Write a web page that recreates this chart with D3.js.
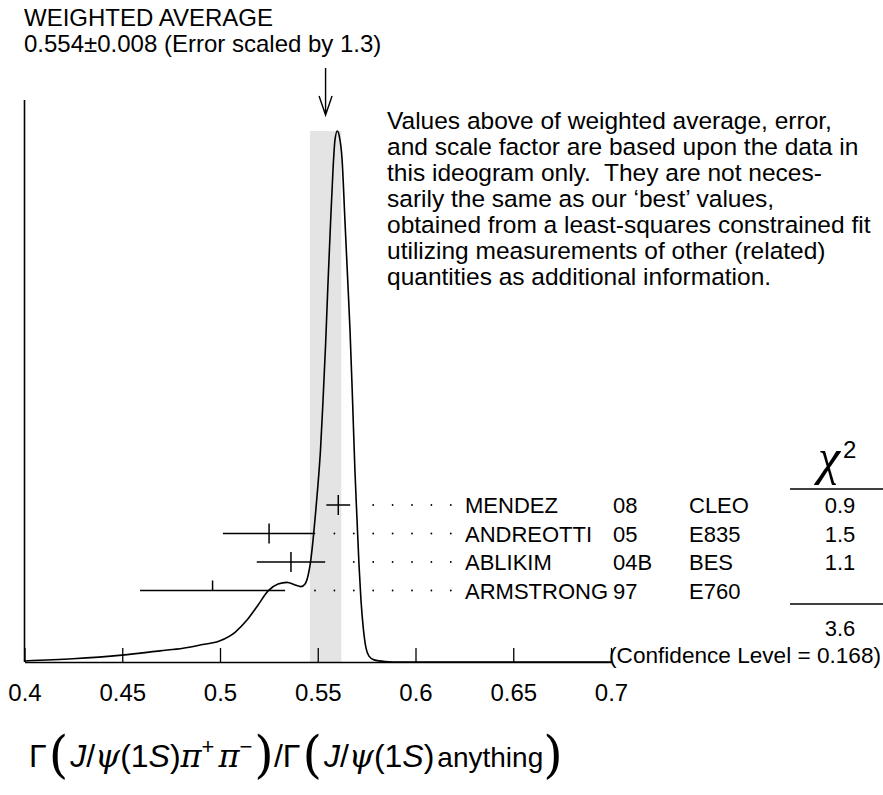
<!DOCTYPE html>
<html><head><meta charset="utf-8">
<script src="https://cdn.jsdelivr.net/npm/d3@7"></script>
<style>
body{margin:0;background:#fff}
svg text{font-family:"Liberation Sans",Arial,Helvetica,sans-serif;fill:#000;white-space:pre}
</style>
</head><body>
<svg id="chart" width="883" height="795"></svg>
<script>
// ---- data ----
const names  = ["MENDEZ","ANDREOTTI","ABLIKIM","ARMSTRONG"];
const years  = ["08","05","04B","97"];
const expts  = ["CLEO","E835","BES","E760"];
const values = [0.5605,0.5251,0.5363,0.4962];
const errors = [0.0061,0.0236,0.0175,0.0371];
const chi2   = ["0.9","1.5","1.1",""];
const chi2Total = "3.6";
const confLevel = "0.168";
const avgValue = 0.554, avgError = 0.008, errScale = "1.3";
const xTicks = [0.4,0.45,0.5,0.55,0.6,0.65,0.7];
const xTickLabels = ["0.4","0.45","0.5","0.55","0.6","0.65","0.7"];
// ideogram curve (x value, relative height)
const curveX = [0.400,0.4248,0.4499,0.4693,0.4811,0.4898,0.500,0.5077,0.5138,0.5194,0.5246,0.5297,0.5343,0.5384,0.5414,0.5435,0.5450,0.5463,0.5476,0.5488,0.5501,0.5514,0.5527,0.5540,0.5552,0.5565,0.5578,0.5588,0.5600,0.5611,0.5624,0.5639,0.5652,0.5665,0.5678,0.5690,0.5701,0.5711,0.5721,0.5734,0.5747,0.5762,0.5788,0.5844,0.592,0.700];
const curveH = [0.002,0.006,0.013,0.021,0.026,0.032,0.040,0.056,0.079,0.107,0.134,0.147,0.150,0.145,0.142,0.147,0.162,0.188,0.230,0.277,0.333,0.399,0.493,0.597,0.710,0.823,0.927,0.983,1.000,0.989,0.949,0.832,0.729,0.625,0.493,0.362,0.267,0.183,0.117,0.060,0.026,0.011,0.004,0.001,0.000,0.000];
const noteLines = [
 "Values above of weighted average, error,",
 "and scale factor are based upon the data in",
 "this ideogram only.  They are not neces-",
 "sarily the same as our \u2018best\u2019 values,",
 "obtained from a least-squares constrained fit",
 "utilizing measurements of other (related)",
 "quantities as additional information."
];

// ---- layout ----
const svg = d3.select("#chart");
const x = d3.scaleLinear().domain([0.4,0.7]).range([24.5,611]);
const y0 = 662, yTop = 131;
const y = d3.scaleLinear().domain([0,1]).range([y0,yTop]);
const rowY = d3.scalePoint().domain(names).range([505,590.5]);
const FS = 22;

// gray band
svg.append("rect")
  .attr("x", x(avgValue-avgError)).attr("width", x(avgValue+avgError)-x(avgValue-avgError))
  .attr("y", y(1)).attr("height", y0-y(1)).attr("fill","#e4e4e4");

// x axis
const ax = d3.axisBottom(x).tickValues(xTicks).tickFormat((d,i)=>xTickLabels[i])
  .tickSizeInner(-14).tickSizeOuter(0).tickPadding(22);
const gx = svg.append("g").attr("transform",`translate(0,${y0})`).call(ax);
gx.select(".domain").attr("stroke","#000").attr("stroke-width",1.6);
gx.selectAll(".tick line").attr("stroke","#000").attr("stroke-width",1.3);
gx.selectAll(".tick text").attr("font-size",24).attr("font-family","Liberation Sans, Arial, sans-serif").attr("fill","#000");
// y axis line
svg.append("line").attr("x1",x(0.4)).attr("x2",x(0.4)).attr("y1",100).attr("y2",y0)
  .attr("stroke","#000").attr("stroke-width",1.6);

// curve
const line = d3.line().x((d,i)=>x(curveX[i])).y((d,i)=>y(curveH[i])).curve(d3.curveMonotoneX);
svg.append("path").attr("d", line(curveX)).attr("fill","none").attr("stroke","#000").attr("stroke-width",1.6);

// arrow
const ax0 = x(avgValue);
svg.append("path").attr("d",`M${ax0},68 L${ax0},115 M${ax0-6.5},96 L${ax0},115 L${ax0+6.5},96`)
  .attr("fill","none").attr("stroke","#000").attr("stroke-width",1.4);

// title
svg.append("text").attr("x",24).attr("y",26).attr("font-size",24).text("WEIGHTED AVERAGE");
svg.append("text").attr("x",24).attr("y",52).attr("font-size",24)
  .text(`${avgValue.toFixed(3)}\u00b1${avgError.toFixed(3)} (Error scaled by ${errScale})`);

// note
svg.append("g").selectAll("text").data(noteLines).join("text")
  .attr("x",387).attr("y",(d,i)=>129+i*26).attr("font-size",24.5).text(d=>d);

// measurements
const rows = svg.append("g");
names.forEach((n,i)=>{
  const yy = rowY(n);
  const lo = x(values[i]-errors[i]), hi = x(values[i]+errors[i]), c = x(values[i]);
  rows.append("line").attr("x1",lo).attr("x2",hi).attr("y1",yy).attr("y2",yy).attr("stroke","#000").attr("stroke-width",1.5);
  rows.append("line").attr("x1",c).attr("x2",c).attr("y1",yy-10).attr("y2",chi2[i]===""?yy:yy+10).attr("stroke","#000").attr("stroke-width",1.5);
  // dotted leader
  for(let k=0;k<12;k++){
    const dx = 450.8 - k*19.4;
    if(dx < hi+14) break;
    rows.append("circle").attr("cx",dx).attr("cy",yy).attr("r",0.9).attr("fill","#000");
  }
  rows.append("text").attr("x",465).attr("y",yy+8).attr("font-size",FS).text(n);
  rows.append("text").attr("x",613).attr("y",yy+8).attr("font-size",FS).text(years[i]);
  rows.append("text").attr("x",689).attr("y",yy+8).attr("font-size",FS).text(expts[i]);
  rows.append("text").attr("x",840).attr("y",yy+8).attr("font-size",FS).attr("text-anchor","middle").text(chi2[i]);
});

// chi2 header
const chi = svg.append("text").attr("x",818).attr("y",474).attr("font-size",50);
chi.append("tspan").attr("font-family","Liberation Serif, serif").attr("font-style","italic").text("\u03c7");
chi.append("tspan").attr("font-size",24).attr("dy",-16).attr("dx",3).attr("font-family","Liberation Sans, Arial, sans-serif").text("2");
svg.append("line").attr("x1",790).attr("x2",883).attr("y1",489).attr("y2",489).attr("stroke","#000").attr("stroke-width",1.3);
svg.append("line").attr("x1",790).attr("x2",883).attr("y1",604).attr("y2",604).attr("stroke","#000").attr("stroke-width",1.3);
svg.append("text").attr("x",840).attr("y",636).attr("font-size",FS).attr("text-anchor","middle").text(chi2Total);
svg.append("text").attr("x",881).attr("y",663).attr("font-size",22.6).attr("text-anchor","end").text(`(Confidence Level = ${confLevel})`);

// x axis title
const t = svg.append("text").attr("x",29).attr("y",767).attr("font-size",32);
const serif="DejaVu Serif, serif";
function sp(txt,opts={}){
  const s=t.append("tspan").text(txt);
  if(opts.it) s.attr("font-style","italic");
  if(opts.ff) s.attr("font-family",opts.ff);
  if(opts.fs) s.attr("font-size",opts.fs);
  if(opts.dy!==undefined) s.attr("dy",opts.dy);
  if(opts.dx!==undefined) s.attr("dx",opts.dx);
  if(opts.fw) s.attr("font-weight",opts.fw);
  return s;
}
const big = {ff:"DejaVu Serif, serif", fs:50, fw:200, dy:5};
sp("\u0393");
sp("(",{...big,dx:2}); sp("J",{it:true,dy:-5,dx:2}); sp("/"); sp("\u03c8",{it:true,ff:serif}); sp("(1"); sp("S",{it:true}); sp(")");
sp("\u03c0",{it:true,ff:serif}); sp("+",{fs:22,dy:-13}); sp("\u03c0",{it:true,ff:serif,dy:13,dx:4}); sp("\u2212",{fs:22,dy:-13});
sp(")",{...big,dy:18,dx:2}); sp("/\u0393",{dy:-5});
sp("(",{...big,dx:2}); sp("J",{it:true,dy:-5,dx:2}); sp("/"); sp("\u03c8",{it:true,ff:serif}); sp("(1"); sp("S",{it:true}); sp(")");
sp("anything",{fs:28,dx:3}); sp(")",{...big});
</script>
</body></html>
